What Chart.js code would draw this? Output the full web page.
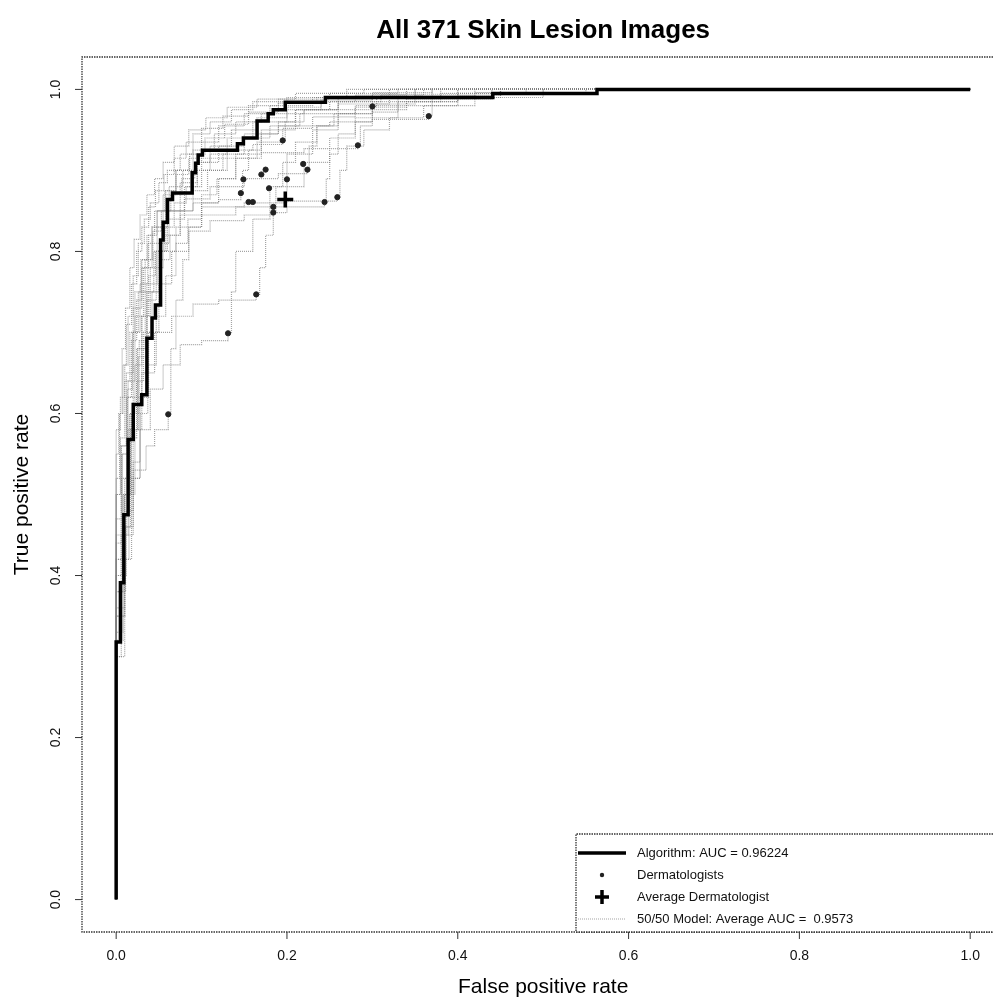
<!DOCTYPE html>
<html>
<head>
<meta charset="utf-8">
<script src="https://cdn.jsdelivr.net/npm/chart.js@4/dist/chart.umd.min.js"></script>
<style>
  html, body { margin: 0; padding: 0; background: #fff; overflow: hidden; }
</style>
</head>
<body>
<canvas id="chart" width="993" height="1003"></canvas>
<script>
// axis ticks
const xTicks = [0, 0.2, 0.4, 0.6, 0.8, 1.0];
const xTickLabels = ['0.0', '0.2', '0.4', '0.6', '0.8', '1.0'];
const yTicks = [0, 0.2, 0.4, 0.6, 0.8, 1.0];
const yTickLabels = ['0.0', '0.2', '0.4', '0.6', '0.8', '1.0'];

// algorithm ROC, corners [fpr, tpr] (top of each vertical step)
const algorithmRoc = [
  [0, 0], [0, 0.318], [0.005, 0.391], [0.009, 0.475], [0.014, 0.568], [0.020, 0.611],
  [0.030, 0.623], [0.036, 0.693], [0.042, 0.718], [0.046, 0.734], [0.052, 0.814],
  [0.055, 0.836], [0.060, 0.864], [0.066, 0.872], [0.089, 0.897], [0.093, 0.909],
  [0.096, 0.919], [0.101, 0.925], [0.142, 0.933], [0.149, 0.940], [0.165, 0.961],
  [0.178, 0.970], [0.184, 0.975], [0.198, 0.984], [0.245, 0.990], [0.441, 0.995],
  [0.563, 1.0], [1.0, 1.0]
];

// dermatologists (fpr, tpr)
const dermFpr = [0.300, 0.366, 0.195, 0.283, 0.219, 0.224, 0.175, 0.170, 0.149, 0.200,
  0.179, 0.146, 0.155, 0.160, 0.184, 0.184, 0.244, 0.259, 0.164, 0.131, 0.061];
const dermTpr = [0.979, 0.967, 0.937, 0.931, 0.908, 0.901, 0.901, 0.895, 0.889, 0.889,
  0.878, 0.872, 0.861, 0.861, 0.855, 0.848, 0.861, 0.867, 0.747, 0.699, 0.599];
const avgDerm = [0.198, 0.864];

// 50/50 model curves
const modelCurves = [
  [[0,0],[0,0.58],[0.005,0.62],[0.01,0.66],[0.014,0.72],[0.02,0.77],[0.026,0.81],[0.033,0.84],[0.04,0.86],[0.05,0.885],[0.06,0.9],[0.075,0.92],[0.09,0.945],[0.11,0.96],[0.135,0.975],[0.16,0.985],[0.2,0.99],[0.27,1],[1,1]],
  [[0,0],[0,0.5],[0.006,0.56],[0.012,0.62],[0.018,0.69],[0.024,0.74],[0.03,0.78],[0.038,0.82],[0.048,0.85],[0.058,0.875],[0.07,0.895],[0.085,0.915],[0.1,0.935],[0.12,0.955],[0.15,0.97],[0.18,0.98],[0.23,0.99],[0.32,1],[1,1]],
  [[0,0],[0,0.45],[0.01,0.52],[0.016,0.6],[0.022,0.66],[0.03,0.72],[0.038,0.77],[0.046,0.8],[0.056,0.83],[0.068,0.86],[0.082,0.88],[0.095,0.9],[0.11,0.92],[0.13,0.94],[0.16,0.96],[0.2,0.975],[0.25,0.985],[0.3,0.99],[0.38,1],[1,1]],
  [[0,0],[0,0.4],[0.012,0.48],[0.02,0.53],[0.035,0.56],[0.045,0.58],[0.061,0.599],[0.064,0.68],[0.07,0.74],[0.078,0.79],[0.085,0.83],[0.1,0.86],[0.12,0.89],[0.14,0.92],[0.17,0.95],[0.21,0.975],[0.26,0.99],[0.35,1],[1,1]],
  [[0,0],[0,0.35],[0.01,0.45],[0.02,0.52],[0.028,0.58],[0.04,0.63],[0.055,0.66],[0.075,0.685],[0.1,0.69],[0.131,0.699],[0.135,0.75],[0.14,0.8],[0.16,0.84],[0.18,0.88],[0.2,0.92],[0.23,0.95],[0.26,0.97],[0.3,0.985],[0.37,1],[1,1]],
  [[0,0],[0,0.33],[0.008,0.42],[0.015,0.5],[0.022,0.58],[0.03,0.65],[0.045,0.7],[0.065,0.72],[0.09,0.735],[0.12,0.74],[0.164,0.747],[0.168,0.78],[0.175,0.82],[0.184,0.848],[0.2,0.88],[0.22,0.91],[0.25,0.94],[0.28,0.965],[0.33,0.98],[0.4,0.99],[0.45,1],[1,1]],
  [[0,0],[0,0.35],[0.01,0.5],[0.02,0.62],[0.03,0.72],[0.04,0.78],[0.055,0.82],[0.075,0.845],[0.1,0.855],[0.15,0.86],[0.2,0.862],[0.259,0.867],[0.262,0.9],[0.27,0.93],[0.29,0.95],[0.32,0.965],[0.36,0.98],[0.42,0.99],[0.5,1],[1,1]],
  [[0,0],[0,0.3],[0.006,0.45],[0.014,0.58],[0.025,0.68],[0.036,0.75],[0.05,0.8],[0.07,0.83],[0.1,0.845],[0.14,0.855],[0.244,0.861],[0.246,0.89],[0.25,0.92],[0.26,0.945],[0.28,0.96],[0.3,0.975],[0.34,0.985],[0.4,0.995],[0.48,1],[1,1]],
  [[0,0],[0,0.38],[0.008,0.5],[0.016,0.6],[0.024,0.68],[0.034,0.75],[0.044,0.8],[0.058,0.85],[0.075,0.885],[0.095,0.91],[0.12,0.93],[0.15,0.945],[0.19,0.955],[0.25,0.96],[0.3,0.963],[0.366,0.967],[0.37,0.985],[0.4,0.993],[0.45,1],[1,1]],
  [[0,0],[0,0.42],[0.007,0.55],[0.014,0.64],[0.022,0.72],[0.032,0.78],[0.042,0.83],[0.055,0.87],[0.07,0.9],[0.09,0.925],[0.115,0.945],[0.14,0.96],[0.17,0.97],[0.22,0.975],[0.3,0.979],[0.305,0.99],[0.35,1],[1,1]],
  [[0,0],[0,0.36],[0.01,0.5],[0.018,0.6],[0.027,0.69],[0.036,0.76],[0.048,0.81],[0.062,0.85],[0.08,0.88],[0.1,0.9],[0.13,0.915],[0.17,0.922],[0.22,0.927],[0.283,0.931],[0.286,0.955],[0.3,0.972],[0.33,0.985],[0.38,0.995],[0.44,1],[1,1]],
  [[0,0],[0,0.32],[0.008,0.46],[0.017,0.58],[0.026,0.67],[0.036,0.74],[0.047,0.8],[0.06,0.84],[0.08,0.865],[0.11,0.88],[0.15,0.89],[0.19,0.896],[0.224,0.901],[0.226,0.93],[0.235,0.955],[0.255,0.97],[0.28,0.98],[0.33,0.99],[0.4,1],[1,1]],
  [[0,0],[0,0.4],[0.006,0.52],[0.013,0.62],[0.02,0.7],[0.028,0.76],[0.037,0.81],[0.048,0.85],[0.062,0.88],[0.078,0.9],[0.1,0.915],[0.13,0.925],[0.16,0.932],[0.195,0.937],[0.198,0.96],[0.21,0.975],[0.24,0.985],[0.28,0.993],[0.34,1],[1,1]],
  [[0,0],[0,0.44],[0.006,0.56],[0.012,0.65],[0.02,0.73],[0.03,0.79],[0.042,0.83],[0.06,0.85],[0.09,0.86],[0.12,0.864],[0.146,0.872],[0.148,0.9],[0.155,0.925],[0.17,0.945],[0.19,0.96],[0.22,0.975],[0.26,0.985],[0.31,0.993],[0.36,1],[1,1]],
  [[0,0],[0,0.3],[0.01,0.42],[0.018,0.52],[0.028,0.62],[0.038,0.7],[0.05,0.76],[0.065,0.8],[0.085,0.825],[0.11,0.838],[0.15,0.845],[0.184,0.848],[0.187,0.88],[0.195,0.91],[0.21,0.935],[0.235,0.955],[0.26,0.97],[0.3,0.982],[0.35,0.992],[0.42,1],[1,1]],
  [[0,0],[0,0.52],[0.004,0.6],[0.008,0.66],[0.012,0.71],[0.018,0.76],[0.024,0.8],[0.03,0.83],[0.038,0.855],[0.046,0.875],[0.056,0.895],[0.068,0.915],[0.082,0.935],[0.1,0.952],[0.125,0.967],[0.155,0.98],[0.19,0.988],[0.25,0.995],[0.33,1],[1,1]],
  [[0,0],[0,0.47],[0.007,0.55],[0.013,0.63],[0.019,0.7],[0.026,0.75],[0.034,0.79],[0.043,0.825],[0.053,0.85],[0.064,0.87],[0.077,0.89],[0.092,0.91],[0.11,0.93],[0.135,0.95],[0.165,0.965],[0.2,0.978],[0.24,0.987],[0.3,0.994],[0.4,1],[1,1]],
  [[0,0],[0,0.42],[0.009,0.5],[0.017,0.57],[0.024,0.64],[0.032,0.7],[0.042,0.75],[0.052,0.79],[0.063,0.82],[0.075,0.85],[0.09,0.875],[0.107,0.9],[0.125,0.92],[0.15,0.94],[0.18,0.955],[0.215,0.97],[0.26,0.982],[0.32,0.99],[0.42,0.996],[0.5,1],[1,1]],
  [[0,0],[0,0.55],[0.003,0.6],[0.007,0.68],[0.011,0.73],[0.016,0.78],[0.021,0.815],[0.028,0.845],[0.036,0.87],[0.045,0.89],[0.055,0.91],[0.068,0.93],[0.085,0.95],[0.105,0.965],[0.13,0.978],[0.165,0.988],[0.21,0.995],[0.29,1],[1,1]],
  [[0,0],[0,0.38],[0.011,0.46],[0.02,0.54],[0.028,0.6],[0.037,0.66],[0.047,0.72],[0.058,0.77],[0.07,0.81],[0.084,0.84],[0.1,0.87],[0.118,0.89],[0.14,0.915],[0.165,0.935],[0.195,0.952],[0.23,0.966],[0.28,0.978],[0.34,0.988],[0.44,0.996],[0.55,1],[1,1]],
  [[0,0],[0,0.5],[0.005,0.57],[0.01,0.64],[0.016,0.7],[0.022,0.75],[0.029,0.79],[0.036,0.82],[0.045,0.85],[0.057,0.875],[0.07,0.9],[0.086,0.92],[0.104,0.94],[0.127,0.957],[0.155,0.972],[0.19,0.983],[0.235,0.99],[0.3,0.996],[0.37,1],[1,1]]
];

const legendLabels = ['Algorithm: AUC = 0.96224', 'Dermatologists', 'Average Dermatologist', '50/50 Model: Average AUC =  0.9573'];

const toXY = pts => pts.map(p => ({ x: p[0], y: p[1] }));
const FONT = '"Liberation Sans", Arial, sans-serif';
const GRAY = 'rgba(125,125,125,0.7)';

// 'before' = move across first, then up to the next corner
const datasets = [];
modelCurves.forEach(c => {
  datasets.push({
    data: toXY(c), showLine: true, stepped: 'before', pointRadius: 0,
    borderColor: GRAY, borderWidth: 1.2, borderDash: [1, 1], order: 4
  });
});
datasets.push({
  data: toXY(algorithmRoc), showLine: true, stepped: 'before', pointRadius: 0,
  borderColor: '#000', borderWidth: 3.5, borderJoinStyle: 'miter', order: 3
});
datasets.push({
  data: dermFpr.map((f, i) => ({ x: f, y: dermTpr[i] })), showLine: false,
  pointRadius: 2.6, pointBackgroundColor: '#222', pointBorderColor: '#222', order: 2
});
datasets.push({
  data: [{ x: avgDerm[0], y: avgDerm[1] }], showLine: false, pointStyle: 'cross',
  pointRadius: 8, pointBorderWidth: 3.5, pointBorderColor: '#000', order: 1
});

// frame with the right side cut off by the page edge
function openBox(ctx, l, t, r, b) {
  ctx.beginPath();
  ctx.moveTo(r + 5, t); ctx.lineTo(l, t); ctx.lineTo(l, b); ctx.lineTo(r + 5, b);
  ctx.stroke();
}

const decor = {
  id: 'decor',
  beforeDatasetsDraw(chart) {
    const { ctx, chartArea: a, scales: { x, y } } = chart;
    ctx.save();
    ctx.strokeStyle = '#333';
    ctx.lineWidth = 1.3;
    ctx.setLineDash([1.5, 1]);
    openBox(ctx, a.left, a.top, a.right, a.bottom);
    ctx.setLineDash([]);
    ctx.lineWidth = 1;
    ctx.fillStyle = '#111';
    ctx.font = '14px ' + FONT;
    ctx.textAlign = 'center';
    ctx.textBaseline = 'middle';
    xTicks.forEach((v, i) => {
      const px = x.getPixelForValue(v);
      ctx.beginPath(); ctx.moveTo(px, a.bottom); ctx.lineTo(px, a.bottom + 7); ctx.stroke();
      ctx.fillText(xTickLabels[i], px, a.bottom + 24);
    });
    yTicks.forEach((v, i) => {
      const py = y.getPixelForValue(v);
      ctx.beginPath(); ctx.moveTo(a.left, py); ctx.lineTo(a.left - 7, py); ctx.stroke();
      ctx.save();
      ctx.translate(a.left - 26, py);
      ctx.rotate(-Math.PI / 2);
      ctx.fillText(yTickLabels[i], 0, 0);
      ctx.restore();
    });
    // titles, centred on the full plot region
    const cx = x.getPixelForValue(0.5);
    ctx.fillStyle = '#000';
    ctx.font = 'bold 26px ' + FONT;
    ctx.fillText('All 371 Skin Lesion Images', cx, 31);
    ctx.font = '21px ' + FONT;
    ctx.fillText('False positive rate', cx, 987);
    ctx.save();
    ctx.translate(22, (a.top + a.bottom) / 2);
    ctx.rotate(-Math.PI / 2);
    ctx.fillText('True positive rate', 0, 0);
    ctx.restore();
    ctx.restore();
  },
  afterDatasetsDraw(chart) {
    const { ctx, chartArea: a } = chart;
    const left = 576, top = 834, rowH = 22, sx = 602, tx = 637;
    ctx.save();
    ctx.fillStyle = '#fff';
    ctx.fillRect(left, top, a.right - left, a.bottom - top);
    ctx.strokeStyle = '#333';
    ctx.lineWidth = 1.3;
    ctx.setLineDash([1.5, 1]);
    openBox(ctx, left, top, a.right, a.bottom);
    ctx.setLineDash([]);
    const rows = legendLabels.map((_, i) => top + 19 + i * rowH);
    // sample marks
    ctx.strokeStyle = '#000'; ctx.lineWidth = 3.5;
    ctx.beginPath(); ctx.moveTo(578, rows[0]); ctx.lineTo(626, rows[0]); ctx.stroke();
    ctx.fillStyle = '#222';
    ctx.beginPath(); ctx.arc(sx, rows[1], 2.2, 0, Math.PI * 2); ctx.fill();
    ctx.lineWidth = 3.5;
    ctx.beginPath();
    ctx.moveTo(sx - 7, rows[2]); ctx.lineTo(sx + 7, rows[2]);
    ctx.moveTo(sx, rows[2] - 7); ctx.lineTo(sx, rows[2] + 7);
    ctx.stroke();
    ctx.strokeStyle = GRAY; ctx.lineWidth = 1.2; ctx.setLineDash([1, 1]);
    ctx.beginPath(); ctx.moveTo(578, rows[3]); ctx.lineTo(626, rows[3]); ctx.stroke();
    ctx.setLineDash([]);
    ctx.fillStyle = '#111';
    ctx.font = '13px ' + FONT;
    ctx.textAlign = 'left';
    ctx.textBaseline = 'middle';
    legendLabels.forEach((t, i) => ctx.fillText(t, tx, rows[i]));
    ctx.restore();
  }
};

new Chart(document.getElementById('chart'), {
  type: 'scatter',
  data: { datasets },
  options: {
    responsive: false,
    animation: false,
    events: [],
    layout: { autoPadding: false, padding: { left: 82, top: 57, right: 0, bottom: 71 } },
    scales: {
      x: { type: 'linear', min: -0.04, max: 1.0267, display: false },
      y: { type: 'linear', min: -0.04, max: 1.04, display: false }
    },
    plugins: { legend: { display: false }, tooltip: { enabled: false }, title: { display: false } }
  },
  plugins: [decor]
});
</script>
</body>
</html>
